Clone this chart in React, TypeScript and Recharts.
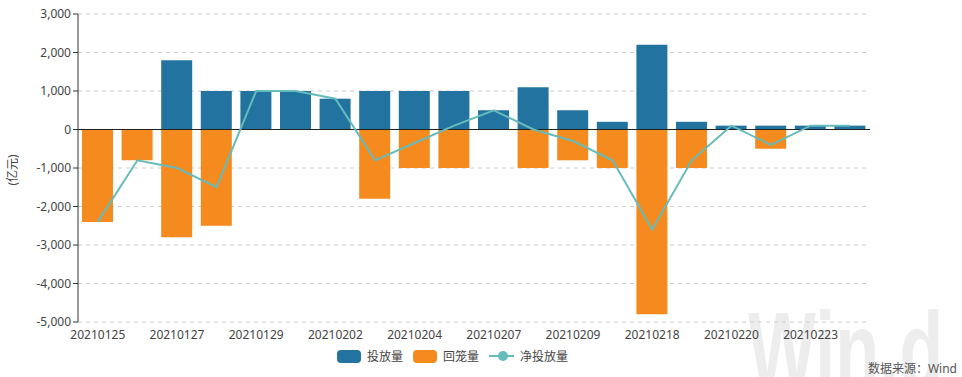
import React from 'react';
import { ComposedChart, Bar, Line, XAxis, YAxis, CartesianGrid, ReferenceLine } from 'recharts';

const dates = [
    '20210125', '20210126', '20210127', '20210128', '20210129',
    '20210201', '20210202', '20210203', '20210204', '20210205',
    '20210207', '20210208', '20210209', '20210210', '20210218',
    '20210219', '20210220', '20210222', '20210223', '20210224',
];

// 投放量
const injection = [0, 0, 1800, 1000, 1000, 1000, 800, 1000, 1000, 1000, 500, 1100, 500, 200, 2200, 200, 100, 100, 100, 100];
// 回笼量
const withdrawal = [-2400, -800, -2800, -2500, 0, 0, 0, -1800, -1000, -1000, 0, -1000, -800, -1000, -4800, -1000, 0, -500, 0, 0];
// 净投放量
const net = [-2400, -800, -1000, -1500, 1000, 1000, 800, -800, -350, 100, 500, 0, -300, -800, -2600, -800, 100, -400, 100, 100];

const yTicks = [-5000, -4000, -3000, -2000, -1000, 0, 1000, 2000, 3000];

const BLUE = '#22739f';
const ORANGE = '#f58a1f';
const TEAL = '#66bbbb';
const FONT = '"Noto Sans", "Noto Sans CJK SC", sans-serif';

const data = dates.map((d, i) => ({
    date: d,
    injection: injection[i],
    withdrawal: withdrawal[i],
    net: net[i],
}));

function LegendBox() {
    const item = { display: 'flex', alignItems: 'center', marginRight: 10 } as const;
    const box = (c: string) => ({ width: 24, height: 13, borderRadius: 4, background: c, marginRight: 6 });
    return (
        <div style={{ position: 'absolute', left: 337, top: 347, display: 'flex', fontSize: 12, color: '#444', fontFamily: FONT }}>
            <div style={item}><div style={box(BLUE)} />投放量</div>
            <div style={item}><div style={box(ORANGE)} />回笼量</div>
            <div style={item}>
                <svg width={25} height={14} style={{ marginRight: 6 }}>
                    <line x1={0} y1={7} x2={25} y2={7} stroke={TEAL} strokeWidth={2} />
                    <circle cx={14} cy={7} r={5} fill={TEAL} />
                </svg>
                净投放量
            </div>
        </div>
    );
}

export default function App() {
    return (
        <div style={{ position: 'absolute', left: 0, top: 0, width: 962, height: 377, background: '#fff', overflow: 'hidden' }}>
            {/* watermark */}
            <div style={{
                position: 'absolute', left: 748, top: 288, fontSize: 72, fontWeight: 700, color: '#ededed',
                fontFamily: 'Liberation Sans, sans-serif', transform: 'scaleY(1.5)', transformOrigin: 'left top', whiteSpace: 'nowrap',
            }}>
                Win.d
            </div>
            <div style={{ position: 'absolute', left: 0, top: 0 }}>
                <ComposedChart
                    width={962}
                    height={377}
                    data={data}
                    stackOffset="sign"
                    margin={{ top: 14, right: 92, bottom: 25, left: 0 }}
                >
                    <CartesianGrid vertical={false} stroke="#cccccc" strokeDasharray="4 4" />
                    <XAxis
                        dataKey="date"
                        interval={1}
                        axisLine={false}
                        tickLine={false}
                        height={30}
                        tick={{ fill: '#444', fontSize: 12, fontFamily: FONT }}
                    />
                    <YAxis
                        width={78}
                        domain={[-5000, 3000]}
                        ticks={yTicks}
                        interval={0}
                        axisLine={{ stroke: '#333' }}
                        tickLine={{ stroke: '#333' }}
                        tickSize={5}
                        tickFormatter={(v: number) => v.toLocaleString('en-US')}
                        tick={{ fill: '#444', fontSize: 12, fontFamily: FONT }}
                    />
                    <Bar dataKey="injection" stackId="a" fill={BLUE} barSize={31} isAnimationActive={false} />
                    <Bar dataKey="withdrawal" stackId="a" fill={ORANGE} barSize={31} isAnimationActive={false} />
                    <ReferenceLine y={0} stroke="#222" strokeWidth={1} />
                    <Line
                        dataKey="net"
                        type="linear"
                        stroke={TEAL}
                        strokeWidth={2}
                        dot={false}
                        activeDot={false}
                        isAnimationActive={false}
                    />
                </ComposedChart>
            </div>
            <div style={{ position: 'absolute', left: 12, top: 170, transform: 'translate(-50%, -50%) rotate(-90deg)', fontSize: 12, color: '#444', fontFamily: FONT, whiteSpace: 'nowrap' }}>
                (亿元)
            </div>
            <LegendBox />
            <div style={{ position: 'absolute', right: 5, top: 359, fontSize: 12, color: '#555', fontFamily: FONT }}>
                数据来源：Wind
            </div>
        </div>
    );
}
